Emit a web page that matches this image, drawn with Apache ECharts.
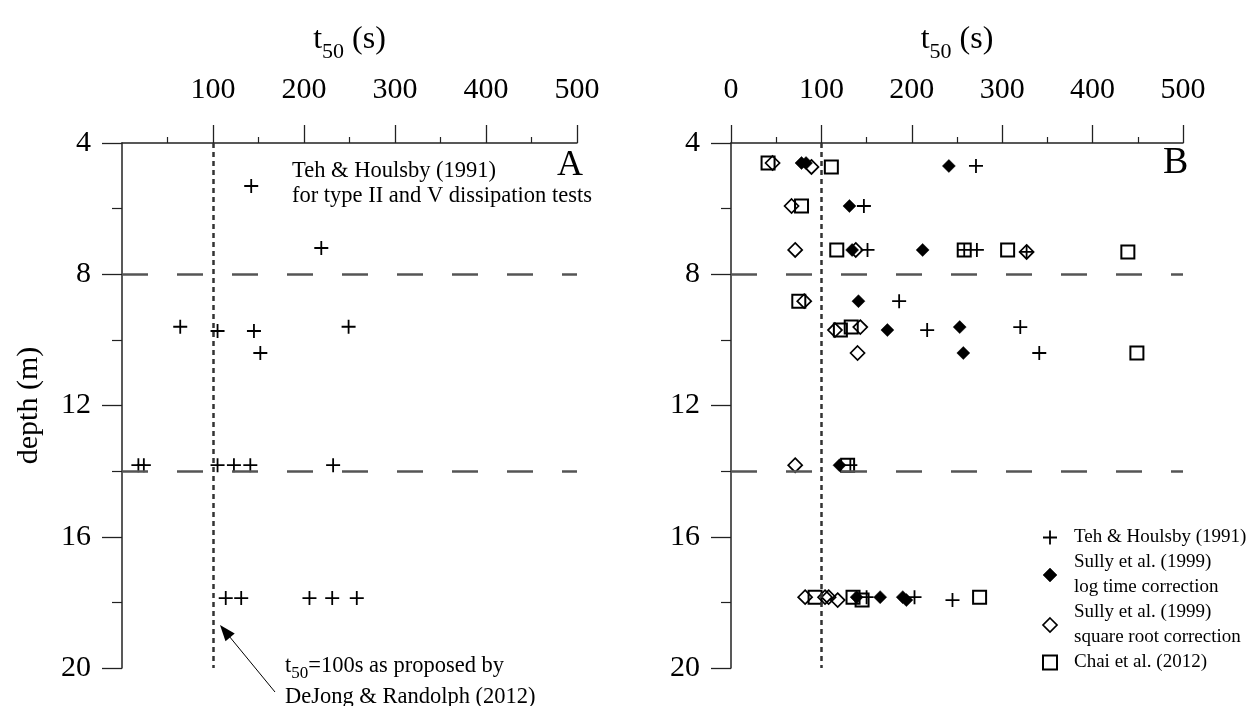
<!DOCTYPE html>
<html><head><meta charset="utf-8">
<script src="https://cdn.jsdelivr.net/npm/echarts@6/dist/echarts.min.js"></script>
<style>html,body{margin:0;padding:0;background:#fff}#c{width:1250px;height:706px}</style>
</head><body><div id="c"></div>
<script>
// ---- data ----
const xTickValuesA = [100, 200, 300, 400, 500];
const depthTicks = [4, 8, 12, 16, 20];
const refT50 = 100;
const refDepths = [8, 14];

// Panel A: Teh & Houlsby (1991)
const tehA_t50   = [142, 219, 64, 105, 145, 249, 152, 18, 24, 105, 123, 141, 232, 114, 131, 206, 231, 258];
const tehA_depth = [5.31, 7.2, 9.6, 9.73, 9.73, 9.6, 10.4, 13.82, 13.82, 13.82, 13.82, 13.82, 13.82, 17.87, 17.87, 17.87, 17.87, 17.87];

// Panel B
const tehB_t50   = [271, 147, 151, 258, 272, 327, 186, 217, 320, 341, 132, 150, 203, 245];
const tehB_depth = [4.70, 5.92, 7.26, 7.26, 7.26, 7.32, 8.82, 9.70, 9.61, 10.4, 13.82, 17.84, 17.84, 17.93];

const logB_t50   = [78, 83, 241, 131, 134, 212, 141, 173, 253, 257, 120, 139, 165, 190, 194];
const logB_depth = [4.61, 4.61, 4.70, 5.92, 7.26, 7.26, 8.82, 9.70, 9.61, 10.4, 13.82, 17.84, 17.84, 17.84, 17.93];

const sqrtB_t50   = [46, 89, 67, 71, 138, 327, 81, 115, 143, 140, 71, 82, 104, 108, 118];
const sqrtB_depth = [4.61, 4.73, 5.92, 7.26, 7.26, 7.32, 8.82, 9.70, 9.61, 10.4, 13.82, 17.84, 17.84, 17.84, 17.93];

const chaiB_t50   = [41, 111, 78, 117, 258, 306, 439, 75, 121, 133, 449, 129, 93, 135, 145, 275];
const chaiB_depth = [4.61, 4.73, 5.92, 7.26, 7.26, 7.26, 7.32, 8.82, 9.70, 9.61, 10.4, 13.82, 17.84, 17.84, 17.93, 17.84];

const seriesNames = ['Teh & Houlsby (1991)', 'Sully et al. (1999)\nlog time correction', 'Sully et al. (1999)\nsquare root correction', 'Chai et al. (2012)'];

// ---- helpers ----
const FONT = 'Liberation Serif';
const pair = (xs, ys) => xs.map((v, i) => [v, ys[i]]);
const PLUS = 'path://M0,7L14,7M7,0L7,14';
const NOFILL = 'rgba(0,0,0,0)';
const styles = {
  plus: {symbol: PLUS, symbolSize: 14, itemStyle: {color: NOFILL, borderColor: '#000', borderWidth: 1.8, opacity: 1}},
  filled: {symbol: 'diamond', symbolSize: 13, itemStyle: {color: '#000', borderColor: '#000', borderWidth: 0.5, opacity: 1}},
  open: {symbol: 'diamond', symbolSize: 14, itemStyle: {color: NOFILL, borderColor: '#000', borderWidth: 1.7, opacity: 1}},
  square: {symbol: 'rect', symbolSize: 13, itemStyle: {color: NOFILL, borderColor: '#000', borderWidth: 2, opacity: 1}}
};

const titleRich = {
  t: {fontSize: 32, fontFamily: FONT, color: '#000', lineHeight: 46},
  s: {fontSize: 22, fontFamily: FONT, color: '#000', lineHeight: 46, verticalAlign: 'bottom'}
};

function xAxisCfg(grid, labels) {
  return {
    gridIndex: grid, type: 'value', position: 'top', min: 0, max: 500, interval: 100,
    name: '{t|t}{s|50}{t| (s)}', nameLocation: 'middle', nameGap: 80,
    nameTextStyle: {rich: titleRich},
    axisLine: {show: true, onZero: false, lineStyle: {color: '#222', width: 1.5}},
    axisTick: {show: true, inside: false, length: 18, lineStyle: {color: '#222', width: 1.3}, customValues: labels},
    minorTick: {show: true, splitNumber: 2, length: 6, lineStyle: {color: '#222', width: 1.2}},
    axisLabel: {customValues: labels, margin: 38, fontSize: 30, fontFamily: FONT, color: '#000'},
    splitLine: {show: false}
  };
}
function yAxisCfg(grid, withName) {
  const c = {
    gridIndex: grid, type: 'value', inverse: true, min: 4, max: 20, interval: 4,
    axisLine: {show: true, onZero: false, lineStyle: {color: '#222', width: 1.5}},
    axisTick: {show: true, inside: false, length: 20, lineStyle: {color: '#222', width: 1.3}},
    minorTick: {show: true, splitNumber: 2, length: 10, lineStyle: {color: '#222', width: 1.2}},
    axisLabel: {margin: 31, fontSize: 30, fontFamily: FONT, color: '#000'},
    splitLine: {show: false}
  };
  if (withName) {
    c.name = 'depth (m)';
    c.nameLocation = 'middle';
    c.nameGap = 78;
    c.nameTextStyle = {fontSize: 30, fontFamily: FONT, color: '#000'};
  }
  return c;
}
function refLines() {
  return {
    silent: true, symbol: 'none', animation: false, label: {show: false}, emphasis: {disabled: true},
    data: [{xAxis: refT50, lineStyle: {type: [5, 4], width: 2.5, color: '#333', opacity: 1}}]
      .concat(refDepths.map(d => ({yAxis: d, lineStyle: {type: [26, 29], width: 2.5, color: '#555', opacity: 1}})))
  };
}
function sc(name, grid, data, st, extra) {
  return Object.assign({
    type: 'scatter', name: name, xAxisIndex: grid, yAxisIndex: grid, data: data,
    symbol: st.symbol, symbolSize: st.symbolSize, itemStyle: st.itemStyle,
    emphasis: {disabled: true}, animation: false
  }, extra || {});
}

const chart = echarts.init(document.getElementById('c'), null, {renderer: 'canvas'});
const option = {
  backgroundColor: '#fff',
  animation: false,
  grid: [
    {left: 122, top: 143, width: 455, height: 525},
    {left: 731, top: 143, width: 452, height: 525}
  ],
  xAxis: [xAxisCfg(0, xTickValuesA), xAxisCfg(1, [0].concat(xTickValuesA))],
  yAxis: [yAxisCfg(0, true), yAxisCfg(1, false)],
  legend: {
    orient: 'vertical', left: 1037, top: 520, itemWidth: 14, itemHeight: 14, itemGap: 0,
    selectedMode: false,
    textStyle: {fontFamily: FONT, fontSize: 19, lineHeight: 25, color: '#000', padding: [0, 0, 0, 12]},
    data: [
      {name: seriesNames[0], icon: PLUS, itemStyle: styles.plus.itemStyle},
      {name: seriesNames[1], icon: 'diamond', itemStyle: styles.filled.itemStyle},
      {name: seriesNames[2], icon: 'diamond', itemStyle: styles.open.itemStyle},
      {name: seriesNames[3], icon: 'rect', itemStyle: styles.square.itemStyle}
    ]
  },
  graphic: [
    {type: 'text', left: 292, top: 160, style: {text: 'Teh & Houlsby (1991)', font: '22.5px "Liberation Serif"', fill: '#000'}},
    {type: 'text', left: 292, top: 185, style: {text: 'for type II and V dissipation tests', font: '22.5px "Liberation Serif"', fill: '#000'}},
    {type: 'text', left: 557, top: 148, style: {text: 'A', font: '36px "Liberation Serif"', fill: '#000'}},
    {type: 'text', left: 1163, top: 144, style: {text: 'B', font: '38px "Liberation Serif"', fill: '#000'}},
    {type: 'line', shape: {x1: 275, y1: 692, x2: 229, y2: 636}, style: {stroke: '#000', lineWidth: 1}},
    {type: 'polygon', shape: {points: [[220, 625], [234.7, 633.6], [225.5, 641.2]]}, style: {fill: '#000'}},
    {type: 'text', left: 285, top: 655, style: {
      text: '{a|t}{b|50}{a|=100s as proposed by}',
      rich: {
        a: {fontSize: 22.5, fontFamily: FONT, fill: '#000', lineHeight: 32},
        b: {fontSize: 17, fontFamily: FONT, fill: '#000', lineHeight: 32, verticalAlign: 'bottom'}
      }
    }},
    {type: 'text', left: 285, top: 686, style: {text: 'DeJong & Randolph (2012)', font: '22.5px "Liberation Serif"', fill: '#000'}}
  ],
  series: [
    sc('Teh A', 0, pair(tehA_t50, tehA_depth), styles.plus, {markLine: refLines()}),
    sc(seriesNames[0], 1, pair(tehB_t50, tehB_depth), styles.plus, {markLine: refLines()}),
    sc(seriesNames[1], 1, pair(logB_t50, logB_depth), styles.filled),
    sc(seriesNames[2], 1, pair(sqrtB_t50, sqrtB_depth), styles.open),
    sc(seriesNames[3], 1, pair(chaiB_t50, chaiB_depth), styles.square)
  ]
};
chart.setOption(option);
</script></body></html>
